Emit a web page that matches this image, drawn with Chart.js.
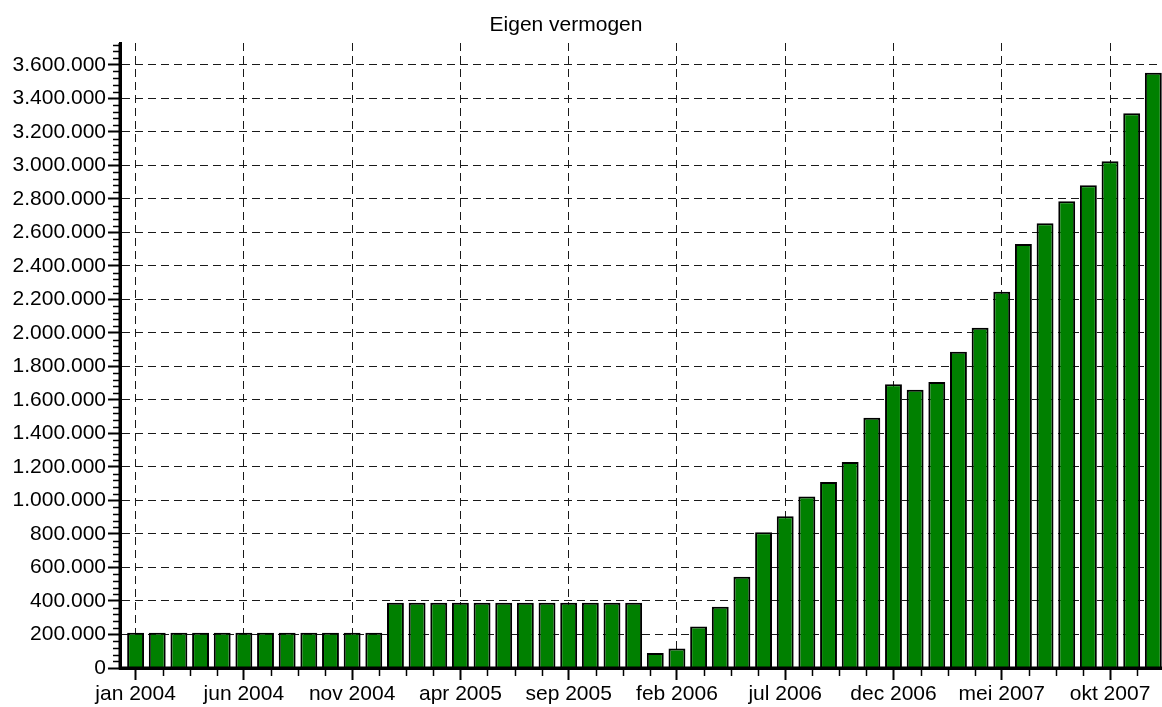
<!DOCTYPE html>
<html>
<head>
<meta charset="utf-8">
<script src="https://cdn.jsdelivr.net/npm/chart.js@4.4.1/dist/chart.umd.min.js"></script>
<style>
  html, body { margin: 0; padding: 0; background: #ffffff; }
  #wrap { width: 1162px; height: 707px; position: relative; }
</style>
</head>
<body>
<div id="wrap"><canvas id="c"></canvas></div>
<script>
const chartTitle = 'Eigen vermogen';

const months = [
  'jan 2004','feb 2004','mrt 2004','apr 2004','mei 2004','jun 2004','jul 2004','aug 2004','sep 2004','okt 2004','nov 2004','dec 2004',
  'jan 2005','feb 2005','mrt 2005','apr 2005','mei 2005','jun 2005','jul 2005','aug 2005','sep 2005','okt 2005','nov 2005','dec 2005',
  'jan 2006','feb 2006','mrt 2006','apr 2006','mei 2006','jun 2006','jul 2006','aug 2006','sep 2006','okt 2006','nov 2006','dec 2006',
  'jan 2007','feb 2007','mrt 2007','apr 2007','mei 2007','jun 2007','jul 2007','aug 2007','sep 2007','okt 2007','nov 2007','dec 2007'
];

const eigenVermogen = [
  210000, 210000, 210000, 210000, 210000, 210000, 210000, 210000, 210000, 210000, 210000, 210000,
  390000, 390000, 390000, 390000, 390000, 390000, 390000, 390000, 390000, 390000, 390000, 390000,
  90000, 117000, 248000, 366000, 545000, 810000, 906000, 1024000, 1110000, 1230000, 1493000, 1694000,
  1660000, 1707000, 1887000, 2030000, 2245000, 2531000, 2654000, 2786000, 2881000, 3025000, 3311000, 3552000
];

const xLabelEvery = 5;        // a labelled tick every 5 months
const xMinorEvery = 1.25;     // minor tick marks on the x axis
const yMajorStep = 200000;
const yMinorStep = 40000;
const yTickMax = 3600000;
const yAxisMax = 3730000;
const xAxisMin = -0.72;
const xAxisMax = 47.4;

function fmtNL(v) {
  return String(Math.round(v)).replace(/\B(?=(\d{3})+(?!\d))/g, '.');
}

const FONT = "'Liberation Sans', Arial, Helvetica, sans-serif";

const extrasPlugin = {
  id: 'extras',
  afterDatasetsDraw(chart) {
    const ctx = chart.ctx;
    const xs = chart.scales.x, ys = chart.scales.y;
    const area = chart.chartArea;
    ctx.save();
    ctx.strokeStyle = '#000';
    ctx.lineWidth = 1.5;
    ctx.beginPath();
    for (let v = 0; v <= xAxisMax; v += xMinorEvery) {
      if (Math.abs(v / xLabelEvery - Math.round(v / xLabelEvery)) < 1e-6) continue;
      const px = Math.round(xs.getPixelForValue(v)) + 0.5;
      ctx.moveTo(px, area.bottom);
      ctx.lineTo(px, area.bottom + 8);
    }
    for (let v = 0; v <= yAxisMax; v += yMinorStep) {
      if (v % yMajorStep === 0) continue;
      const py = Math.round(ys.getPixelForValue(v)) + 0.5;
      ctx.moveTo(area.left - 7, py);
      ctx.lineTo(area.left, py);
    }
    ctx.stroke();
    ctx.lineWidth = 3;
    ctx.beginPath();
    ctx.moveTo(area.left, area.top);
    ctx.lineTo(area.left, area.bottom + 1.5);
    ctx.moveTo(area.left - 1.5, area.bottom);
    ctx.lineTo(area.right, area.bottom);
    ctx.stroke();
    ctx.restore();
  },
  afterDraw(chart) {
    const ctx = chart.ctx;
    ctx.save();
    ctx.fillStyle = '#000';
    ctx.font = '21px ' + FONT;
    ctx.textAlign = 'center';
    ctx.textBaseline = 'alphabetic';
    ctx.fillText(chartTitle, 566, 31);
    ctx.restore();
  }
};

new Chart(document.getElementById('c'), {
  type: 'bar',
  data: {
    datasets: [{
      label: chartTitle,
      data: eigenVermogen.map((v, i) => ({ x: i, y: v })),
      backgroundColor: '#008000',
      borderColor: '#000000',
      borderWidth: 2,
      barPercentage: 0.78,
      categoryPercentage: 1.0
    }]
  },
  options: {
    responsive: true,
    maintainAspectRatio: false,
    animation: false,
    layout: { padding: { top: 43, left: 0, right: 0, bottom: 0 } },
    plugins: {
      legend: { display: false },
      tooltip: { enabled: false },
      title: { display: false }
    },
    scales: {
      x: {
        type: 'linear',
        min: xAxisMin,
        max: xAxisMax,
        offset: false,
        afterBuildTicks(scale) {
          scale.ticks = months.map((m, i) => i).filter(i => i % xLabelEvery === 0).map(v => ({ value: v }));
        },
        afterFit(scale) { scale.height = 39; },
        ticks: {
          autoSkip: false,
          maxRotation: 0,
          padding: 2,
          color: '#000',
          font: { family: FONT, size: 21 },
          callback: (v) => months[v] || ''
        },
        grid: {
          offset: false,
          color: '#1a1a1a',
          lineWidth: 1,
          tickLength: 12,
          tickColor: '#000',
          tickWidth: 2
        },
        border: { display: true, color: '#000', width: 3, dash: [8, 5] }
      },
      y: {
        min: 0,
        max: yAxisMax,
        afterBuildTicks(scale) {
          const t = [];
          for (let v = 0; v <= yTickMax; v += yMajorStep) t.push({ value: v });
          scale.ticks = t;
        },
        afterFit(scale) { scale.width = 120; },
        ticks: {
          padding: 2,
          color: '#000',
          font: { family: FONT, size: 21 },
          callback: (v) => fmtNL(v)
        },
        grid: {
          color: '#1a1a1a',
          lineWidth: 1,
          tickLength: 12,
          tickColor: '#000',
          tickWidth: 2
        },
        border: { display: true, color: '#000', width: 3, dash: [8, 5] }
      }
    }
  },
  plugins: [extrasPlugin]
});
</script>
</body>
</html>
